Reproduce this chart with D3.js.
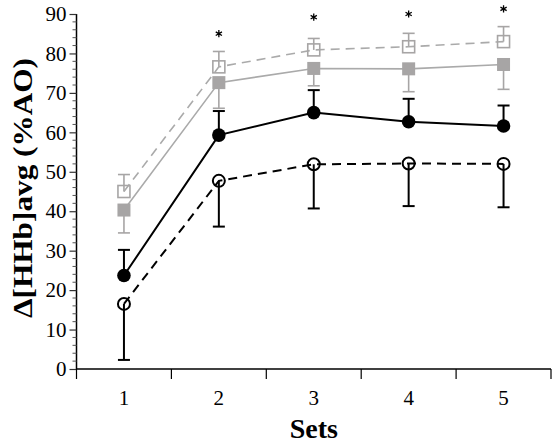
<!DOCTYPE html>
<html><head><meta charset="utf-8">
<script src="https://cdn.jsdelivr.net/npm/d3@7"></script>
<style>html,body{margin:0;padding:0;background:#fff;}svg{display:block;}</style>
</head><body>
<svg id="chart" width="559" height="445"></svg>
<script>
const sets = [1, 2, 3, 4, 5];
const yTicks = [0, 10, 20, 30, 40, 50, 60, 70, 80, 90];
// open squares, grey dashed (upper error bar)
const openSquare = [45.0, 76.6, 80.9, 81.7, 83.0];
const openSquareErrTop = [49.3, 80.5, 83.8, 85.1, 86.8];
// filled squares, grey solid (lower error bar)
const filledSquare = [40.3, 72.6, 76.2, 76.1, 77.2];
const filledSquareErrBottom = [34.5, 66.1, 71.8, 70.3, 70.9];
// filled circles, black solid (upper error bar)
const filledCircle = [23.7, 59.3, 65.0, 62.7, 61.6];
const filledCircleErrTop = [30.2, 65.4, 70.7, 68.5, 66.8];
// open circles, black dashed (lower error bar)
const openCircle = [16.5, 47.7, 51.9, 52.1, 52.0];
const openCircleErrBottom = [2.3, 36.1, 40.7, 41.3, 41.0];
// significance asterisks
const starSets = [2, 3, 4, 5];
const starY = [85.0, 89.2, 90.0, 91.3];

const svg = d3.select("#chart");
const x = d3.scaleLinear().domain([0.5, 5.5]).range([76.5, 551]);
const y = d3.scaleLinear().domain([0, 90]).range([369, 14]);
const FONT = "'Liberation Serif', 'Times New Roman', serif";
const GREY = "#a7a5a5";
const GREYLINE = "#aaaaaa";

// Axes
const yAxis = d3.axisLeft(y).tickValues(yTicks).tickSize(7).tickPadding(3);
const gy = svg.append("g").attr("transform", "translate(76.5,0)").call(yAxis);
gy.select(".domain").attr("stroke", "#000").attr("stroke-width", 1.5).attr("d", `M0,${y(90)}V${y(0)}`);
gy.selectAll(".tick line").attr("stroke-width", 1.2).attr("stroke", "#333");
gy.selectAll("text").attr("font-family", FONT).attr("font-size", 21).attr("fill", "#000");
// minor ticks
const minor = d3.range(0, 90, 2).filter(v => v % 10 !== 0);
svg.append("g").selectAll("line").data(minor).join("line")
  .attr("x1", 72.5).attr("x2", 76.5).attr("y1", d => y(d)).attr("y2", d => y(d))
  .attr("stroke", "#555").attr("stroke-width", 1);

const xBounds = [0.5, 1.5, 2.5, 3.5, 4.5, 5.5];
const gx = svg.append("g").attr("transform", `translate(0,${y(0)})`);
gx.append("line").attr("x1", x(0.5)).attr("x2", x(5.5)).attr("stroke", "#000").attr("stroke-width", 1.5);
gx.selectAll(".xt").data(xBounds).join("line").attr("class", "xt")
  .attr("x1", d => x(d)).attr("x2", d => x(d)).attr("y1", 0).attr("y2", 10)
  .attr("stroke", "#000").attr("stroke-width", 1.2);
gx.selectAll(".xl").data(sets).join("text").attr("class", "xl")
  .attr("x", d => x(d)).attr("y", 36).attr("text-anchor", "middle")
  .attr("font-family", FONT).attr("font-size", 21).text(d => d);

// Axis titles
svg.append("text").attr("x", x(3)).attr("y", 438).attr("text-anchor", "middle")
  .attr("font-family", FONT).attr("font-weight", "bold").attr("font-size", 28).text("Sets");
svg.append("text").attr("transform", "translate(32,188) rotate(-90)").attr("text-anchor", "middle")
  .attr("font-family", FONT).attr("font-weight", "bold").attr("font-size", 27)
  .attr("textLength", 260).attr("lengthAdjust", "spacingAndGlyphs").text("Δ[HHb]avg (%AO)");

const line = d3.line().x((d, i) => x(sets[i])).y(d => y(d));
function errBars(vals, ends, color, w) {
  const g = svg.append("g").attr("stroke", color).attr("stroke-width", w);
  g.selectAll(".v").data(vals).join("line")
    .attr("x1", (d, i) => x(sets[i])).attr("x2", (d, i) => x(sets[i]))
    .attr("y1", d => y(d)).attr("y2", (d, i) => y(ends[i]));
  g.selectAll(".c").data(ends).join("line")
    .attr("x1", (d, i) => x(sets[i]) - 6).attr("x2", (d, i) => x(sets[i]) + 6)
    .attr("y1", d => y(d)).attr("y2", d => y(d));
}

// Grey series
errBars(openSquare, openSquareErrTop, GREY, 1.6);
errBars(filledSquare, filledSquareErrBottom, GREY, 1.6);
svg.append("path").datum(openSquare).attr("d", line).attr("fill", "none")
  .attr("stroke", GREYLINE).attr("stroke-width", 1.6).attr("stroke-dasharray", "9,6");
svg.append("path").datum(filledSquare).attr("d", line).attr("fill", "none")
  .attr("stroke", GREYLINE).attr("stroke-width", 1.6);
svg.append("g").selectAll("rect").data(openSquare).join("rect")
  .attr("x", (d, i) => x(sets[i]) - 6).attr("y", d => y(d) - 6).attr("width", 12).attr("height", 12)
  .attr("fill", "none").attr("stroke", GREY).attr("stroke-width", 1.6);
svg.append("g").selectAll("rect").data(filledSquare).join("rect")
  .attr("x", (d, i) => x(sets[i]) - 6.5).attr("y", d => y(d) - 6.5).attr("width", 13).attr("height", 13)
  .attr("fill", GREY);

// Black series
errBars(filledCircle, filledCircleErrTop, "#000", 2);
errBars(openCircle, openCircleErrBottom, "#000", 2);
svg.append("path").datum(openCircle).attr("d", line).attr("fill", "none")
  .attr("stroke", "#000").attr("stroke-width", 2).attr("stroke-dasharray", "9,6");
svg.append("path").datum(filledCircle).attr("d", line).attr("fill", "none")
  .attr("stroke", "#000").attr("stroke-width", 2);
svg.append("g").selectAll("circle").data(openCircle).join("circle")
  .attr("cx", (d, i) => x(sets[i])).attr("cy", d => y(d)).attr("r", 6)
  .attr("fill", "none").attr("stroke", "#000").attr("stroke-width", 2);
svg.append("g").selectAll("circle").data(filledCircle).join("circle")
  .attr("cx", (d, i) => x(sets[i])).attr("cy", d => y(d)).attr("r", 6.8)
  .attr("fill", "#000");

// Asterisks
const star = d3.symbol().type(d3.symbolAsterisk).size(36);
svg.append("g").selectAll("path").data(starY).join("path")
  .attr("transform", (d, i) => `translate(${x(starSets[i])},${y(d)})`)
  .attr("d", star).attr("fill", "none").attr("stroke", "#000").attr("stroke-width", 1.3);
</script>
</body></html>
